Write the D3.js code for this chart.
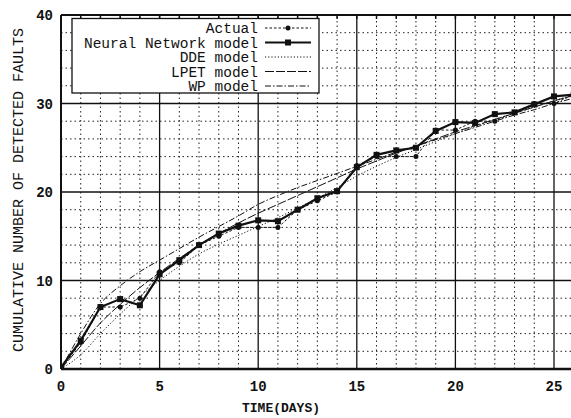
<!DOCTYPE html>
<html>
<head>
<meta charset="UTF-8">
<script src="https://d3js.org/d3.v7.min.js"></script>
<style>
  body { margin: 0; background: #fff; }
  svg { display: block; }
  .lbl { font-family: "Liberation Mono", "DejaVu Sans Mono", monospace; fill: #111; }
</style>
</head>
<body>
<svg id="chart" width="571" height="418"></svg>
<script>
// days 0..26
const days = d3.range(0, 27);
const actual = [0, 3, 7, 7, 8, 11, 12, 14, 15, 16, 16, 16, 18, 19, 20, 23, 24, 24, 24, 27, 27, 28, 28, 29, 30, 30, 31];
const neural = [0.2, 3.2, 7, 7.9, 7.2, 10.7, 12.3, 14, 15.3, 16.2, 16.8, 16.7, 18, 19.3, 20.1, 22.8, 24.2, 24.7, 25, 26.9, 27.9, 27.8, 28.8, 29, 29.9, 30.8, 31];
const dde = [0, 1.6, 4.0, 6.2, 8.2, 10.0, 11.6, 13.0, 14.1, 15.1, 16.1, 17.1, 18.2, 19.3, 20.5, 21.8, 22.9, 23.9, 24.8, 25.7, 26.6, 27.4, 28.2, 28.9, 29.6, 30.3, 31.0];
const lpet = [0, 2.6, 5.2, 7.3, 9.2, 10.9, 12.5, 14.0, 15.3, 16.5, 17.6, 18.6, 19.6, 20.6, 21.6, 22.6, 23.5, 24.4, 25.2, 26.0, 26.8, 27.5, 28.2, 28.9, 29.6, 30.3, 30.9];
const wp = [0, 4.0, 7.4, 9.4, 11.0, 12.3, 13.6, 14.9, 16.1, 17.3, 18.6, 19.6, 20.5, 21.3, 22.1, 22.9, 23.7, 24.5, 25.2, 25.9, 26.6, 27.3, 28.0, 28.7, 29.3, 30.0, 30.6];
const xTicks = [0, 5, 10, 15, 20, 25];
const yTicks = [0, 10, 20, 30, 40];
const legendNames = ["Actual", "Neural Network model", "DDE model", "LPET model", "WP model"];

const svg = d3.select("#chart");
const x = d3.scaleLinear().domain([0, 30]).range([61, 61 + 30 * 19.72]);
const y = d3.scaleLinear().domain([0, 40]).range([369, 15]);
const W = 571;

svg.append("clipPath").attr("id", "clip")
  .append("rect").attr("x", 61).attr("y", 15).attr("width", W - 61).attr("height", 354);

const grid = svg.append("g");
// minor grid
grid.selectAll(".vx").data(d3.range(1, 30).filter(d => d % 5)).enter().append("line")
  .attr("x1", d => x(d)).attr("x2", d => x(d)).attr("y1", y(0)).attr("y2", y(40))
  .attr("stroke", "#222").attr("stroke-width", 1).attr("stroke-dasharray", "1.5,3");
grid.selectAll(".hy").data(d3.range(2, 40, 2).filter(d => d % 10)).enter().append("line")
  .attr("x1", x(0)).attr("x2", W).attr("y1", d => y(d)).attr("y2", d => y(d))
  .attr("stroke", "#222").attr("stroke-width", 1).attr("stroke-dasharray", "1.5,3");
// major grid
grid.selectAll(".mx").data(xTicks.slice(1)).enter().append("line")
  .attr("x1", d => x(d)).attr("x2", d => x(d)).attr("y1", y(0)).attr("y2", y(40))
  .attr("stroke", "#111").attr("stroke-width", 1.3);
grid.selectAll(".my").data(yTicks.slice(1, -1)).enter().append("line")
  .attr("x1", x(0)).attr("x2", W).attr("y1", d => y(d)).attr("y2", d => y(d))
  .attr("stroke", "#111").attr("stroke-width", 1.3);

// frame
svg.append("line").attr("x1", x(0)).attr("x2", W).attr("y1", y(0)).attr("y2", y(0))
  .attr("stroke", "#111").attr("stroke-width", 2.5);
svg.append("line").attr("x1", x(0)).attr("x2", W).attr("y1", y(40)).attr("y2", y(40))
  .attr("stroke", "#111").attr("stroke-width", 2);
svg.append("line").attr("x1", x(0)).attr("x2", x(0)).attr("y1", y(0)).attr("y2", y(40))
  .attr("stroke", "#111").attr("stroke-width", 2);
// small ticks on top edge
svg.selectAll(".tt").data(d3.range(1, 30)).enter().append("line")
  .attr("x1", d => x(d)).attr("x2", d => x(d)).attr("y1", y(40)).attr("y2", y(40) + 4)
  .attr("stroke", "#111").attr("stroke-width", 1.5);

// tick labels
svg.selectAll(".xl").data(xTicks).enter().append("text").attr("class", "lbl")
  .attr("x", d => x(d)).attr("y", 391).attr("text-anchor", "middle")
  .attr("font-size", 14).attr("font-weight", "bold").text(d => d);
svg.selectAll(".yl").data(yTicks).enter().append("text").attr("class", "lbl")
  .attr("x", 53).attr("y", d => y(d) + 5).attr("text-anchor", "end")
  .attr("font-size", 14).attr("font-weight", "bold").text(d => d);

svg.append("text").attr("class", "lbl").attr("x", 281).attr("y", 412)
  .attr("text-anchor", "middle").attr("font-size", 13).attr("font-weight", "bold")
  .text("TIME(DAYS)");
svg.append("text").attr("class", "lbl")
  .attr("transform", "translate(23,190) rotate(-90)")
  .attr("text-anchor", "middle").attr("font-size", 15).text("CUMULATIVE NUMBER OF DETECTED FAULTS");

// series
const plot = svg.append("g").attr("clip-path", "url(#clip)");
const styles = [
  { data: actual, width: 1, dash: "2.5,2", curve: d3.curveLinear, marker: "dot" },
  { data: neural, width: 2.2, dash: null, curve: d3.curveLinear, marker: "square" },
  { data: dde, width: 1, dash: "1.2,2", curve: d3.curveMonotoneX, marker: null },
  { data: lpet, width: 1, dash: "9,2", curve: d3.curveMonotoneX, marker: null },
  { data: wp, width: 1, dash: "6,2,1.5,2", curve: d3.curveMonotoneX, marker: null }
];

styles.slice().reverse().forEach(s => {
  const line = d3.line().x((d, i) => x(days[i])).y(d => y(d)).curve(s.curve);
  plot.append("path").datum(s.data).attr("d", line)
    .attr("fill", "none").attr("stroke", "#111").attr("stroke-width", s.width)
    .attr("stroke-dasharray", s.dash);
  if (s.marker === "dot") {
    plot.selectAll(null).data(s.data).enter().append("circle")
      .attr("cx", (d, i) => x(days[i])).attr("cy", d => y(d)).attr("r", 2.5).attr("fill", "#111");
  } else if (s.marker === "square") {
    plot.selectAll(null).data(s.data).enter().append("rect")
      .attr("x", (d, i) => x(days[i]) - 3).attr("y", d => y(d) - 3)
      .attr("width", 6).attr("height", 6).attr("fill", "#111");
  }
});

// legend
const lg = svg.append("g");
lg.append("rect").attr("x", 72).attr("y", 18.5).attr("width", 247).attr("height", 74.5)
  .attr("fill", "#fff").attr("stroke", "#111").attr("stroke-width", 1.3);
const rowY = d3.scaleLinear().domain([0, 4]).range([28, 86]);
legendNames.forEach((name, i) => {
  const s = styles[i];
  lg.append("text").attr("class", "lbl").attr("x", 258).attr("y", rowY(i) + 5)
    .attr("text-anchor", "end").attr("font-size", 14.5).text(name);
  lg.append("line").attr("x1", 265).attr("x2", 311).attr("y1", rowY(i)).attr("y2", rowY(i))
    .attr("stroke", "#111").attr("stroke-width", s.width).attr("stroke-dasharray", s.dash);
  if (s.marker === "dot") {
    lg.append("circle").attr("cx", 288).attr("cy", rowY(i)).attr("r", 2.5).attr("fill", "#111");
  } else if (s.marker === "square") {
    lg.append("rect").attr("x", 285).attr("y", rowY(i) - 3).attr("width", 6).attr("height", 6).attr("fill", "#111");
  }
});
</script>
</body>
</html>
